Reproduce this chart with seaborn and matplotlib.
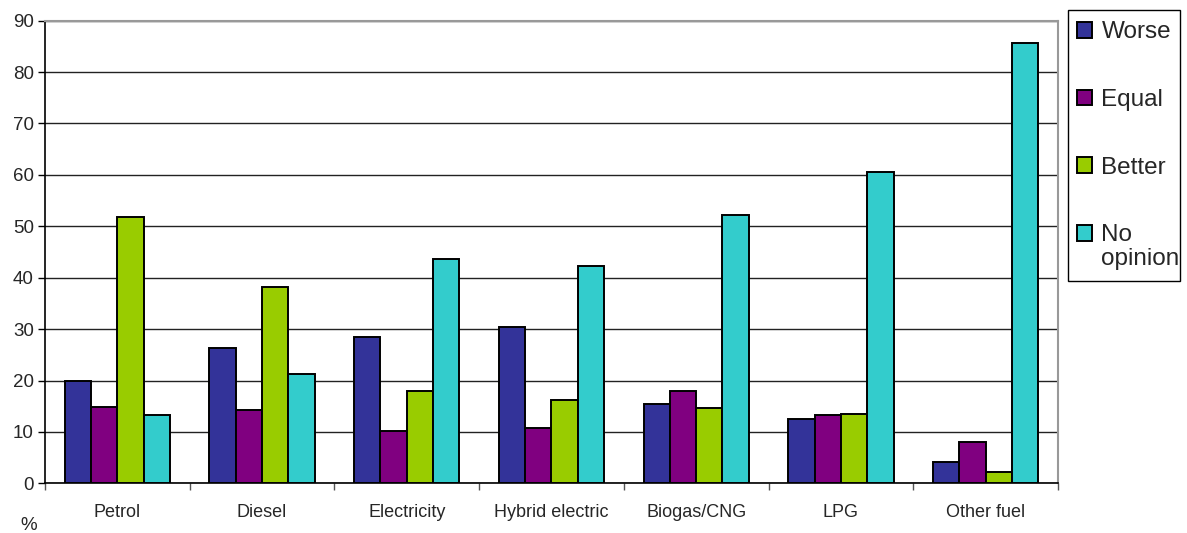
import matplotlib
matplotlib.use("Agg")
import matplotlib.pyplot as plt
from matplotlib.patches import Rectangle
import seaborn as sns
import pandas as pd
import numpy as np

fuels = ["Petrol", "Diesel", "Electricity", "Hybrid electric", "Biogas/CNG", "LPG", "Other fuel"]
opinions = ["Worse", "Equal", "Better", "No\nopinion"]
worse = [19.9, 26.3, 28.5, 30.4, 15.5, 12.5, 4.1]
equal = [14.9, 14.2, 10.1, 10.8, 17.9, 13.2, 8.1]
better = [51.9, 38.2, 17.9, 16.2, 14.6, 13.5, 2.3]
no_opinion = [13.2, 21.3, 43.7, 42.3, 52.2, 60.6, 85.6]
yticks = list(range(0, 91, 10))

colors = ["#333399", "#800080", "#99CC00", "#33CCCC"]

df = pd.DataFrame({
    "fuel": fuels * 4,
    "opinion": sum([[o] * len(fuels) for o in opinions], []),
    "value": worse + equal + better + no_opinion,
})

sns.set_theme(style="white")
plt.rcParams["font.family"] = ["Liberation Sans", "DejaVu Sans"]

fig = plt.figure(figsize=(11.87, 5.33), dpi=100)
ax = fig.add_axes([0.0379, 0.0932, 0.8534, 0.868])

sns.barplot(data=df, x="fuel", y="value", hue="opinion", order=fuels,
            hue_order=opinions, palette=colors, width=0.727, gap=0,
            edgecolor="black", linewidth=1.4, saturation=1, ax=ax, zorder=3)

ax.set_ylim(0, 90)
ax.set_xlim(-0.5, len(fuels) - 0.5)
ax.set_yticks(yticks)
ax.set_yticklabels([str(t) for t in yticks], fontsize=13.5)
ax.yaxis.grid(True, color="#222222", linewidth=1.0, zorder=0)
ax.set_axisbelow(True)

ax.set_xticks(range(len(fuels)))
ax.set_xticklabels(fuels, fontsize=13)
ax.set_xticks(np.arange(-0.5, len(fuels)), minor=True)
ax.tick_params(axis="x", which="major", length=0, pad=15)
ax.tick_params(axis="x", which="minor", length=5, width=1, color="#555555", direction="out", bottom=True)
ax.tick_params(axis="y", length=5, width=1, color="black", direction="out", left=True, pad=3)
ax.set_xlabel("")
ax.set_ylabel("")

for side in ["left", "bottom"]:
    ax.spines[side].set_color("black")
    ax.spines[side].set_linewidth(1.2)
for side in ["top", "right"]:
    ax.spines[side].set_color("#999999")
    ax.spines[side].set_linewidth(1.5)

# legend entries without their own frame; the box is drawn separately
handles, labels = ax.get_legend_handles_labels()
ax.get_legend().remove()
leg = fig.legend(handles, labels, loc="upper left", bbox_to_anchor=(0.9029, 0.970),
                 fontsize=17.5, frameon=False,
                 handlelength=0.62, handleheight=0.62, handletextpad=0.38,
                 labelspacing=1.88, borderpad=0.22, borderaxespad=0)
for t in leg.get_texts():
    t.set_linespacing(1.1)

# align the two-line entry's swatch with its first line
last = leg.legend_handles[-1]
last.set_y(last.get_y() + 10.5)

fig.patches.append(Rectangle((0.8997, 0.4728), 0.0944, 0.5084, transform=fig.transFigure,
                             fill=False, edgecolor="black", linewidth=1.0))

fig.text(0.017, 0.006, "%", fontsize=13.5, va="baseline")

fig.savefig("out.png", dpi=100)
